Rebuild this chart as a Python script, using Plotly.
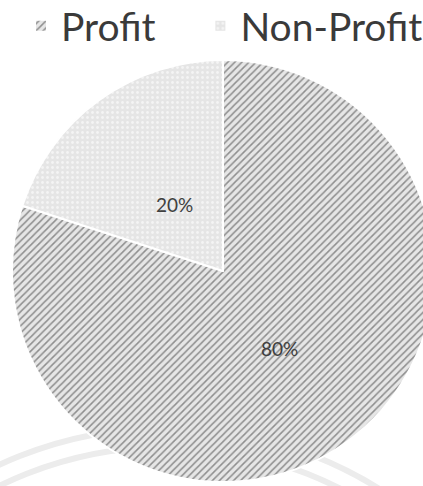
import math
import plotly.graph_objects as go

# Share of organisations by type
categories = ["Profit", "Non-Profit"]
shares = [80, 20]

W, H = 446, 486            # figure is a bit wider than the window; the right edge is cropped
CX, CY, R = 223, 271, 211  # pie centre and radius in px

fill_colors = ["#e6e6e6", "#e5e5e5"]
pattern_shapes = ["/", "."]
pattern_fg = ["#8e8e8e", "#f4f4f4"]
pattern_size = [5, 5]
pattern_solidity = [0.3, 0.25]
label_radius = [0.455, 0.39]   # label distance from centre, as a fraction of R
legend_pad = [4, 0]            # non-breaking spaces after each legend entry

fig = go.Figure(
    go.Pie(
        labels=[c + "\u00a0" * n for c, n in zip(categories, legend_pad)],
        values=shares,
        sort=False,
        direction="clockwise",
        rotation=0,
        textinfo="none",
        marker=dict(
            colors=fill_colors,
            line=dict(color="#ffffff", width=2),
            pattern=dict(
                shape=pattern_shapes,
                fgcolor=pattern_fg,
                bgcolor=fill_colors,
                size=pattern_size,
                solidity=pattern_solidity,
            ),
        ),
        domain=dict(
            x=[(CX - R) / W, (CX + R) / W],
            y=[1 - (CY + R) / H, 1 - (CY - R) / H],
        ),
        hoverinfo="skip",
    )
)

# percentage labels placed along each slice's middle angle
total = sum(shares)
start = 0.0
for val, frac in zip(shares, label_radius):
    mid = (start + val / 2) / total * 2 * math.pi   # clockwise from 12 o'clock
    start += val
    px = CX + frac * R * math.sin(mid)
    py = CY - frac * R * math.cos(mid)
    fig.add_annotation(
        x=px / W, y=1 - py / H, xref="paper", yref="paper",
        xanchor="center", yanchor="middle",
        text=f"{round(val / total * 100)}%",
        showarrow=False,
        font=dict(family="Lato", size=19, color="#404040"),
    )

# faint background rings behind the pie
ring_c = (167, 828)
for r in (400, 381):
    fig.add_shape(
        type="circle",
        xref="paper", yref="paper",
        x0=(ring_c[0] - r) / W, x1=(ring_c[0] + r) / W,
        y0=1 - (ring_c[1] + r) / H, y1=1 - (ring_c[1] - r) / H,
        line=dict(color="#ececec", width=6),
        layer="below",
    )

fig.update_layout(
    width=W,
    height=H,
    margin=dict(l=0, r=0, t=0, b=0, autoexpand=False),
    paper_bgcolor="#ffffff",
    plot_bgcolor="#ffffff",
    showlegend=True,
    legend=dict(
        orientation="h",
        x=21 / W,
        y=1 + 6 / H,
        xanchor="left",
        yanchor="top",
        font=dict(family="Lato", size=39, color="#3a3a3a"),
        bgcolor="rgba(0,0,0,0)",
    ),
)

fig.write_html(
    "out.html",
    post_script="document.documentElement.style.overflow='hidden';document.body.style.overflow='hidden';",
)
